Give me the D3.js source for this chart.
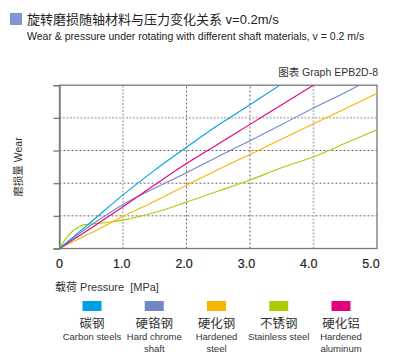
<!DOCTYPE html>
<html><head><meta charset="utf-8">
<script src="https://cdn.jsdelivr.net/npm/d3@7"></script>
<style>
body{margin:0;background:#fff;}
svg{display:block;font-family:"Liberation Sans","Noto Sans CJK SC",sans-serif;}
</style></head>
<body>
<svg id="c" width="400" height="360"></svg>
<script>
const xTicks = [0,1,2,3,4,5];
const xTickLabels = ["0","1.0","2.0","3.0","4.0","5.0"];
const yTicks = [0,1,2,3,4,5];
const seriesNames = ["碳钢","硬铬钢","硬化钢","不锈钢","硬化铝"];
const seriesEn = [["Carbon steels"],["Hard chrome","shaft"],["Hardened","steel"],["Stainless steel"],["Hardened","aluminum"]];
const seriesColors = ["#00a0e9","#7088c8","#f8b500","#aacc03","#e4007f"];
const carbonP = [0,0.5,1,1.5,2,2.5,3,3.5];
const carbonW = [0,0.82,1.64,2.4,3.1,3.78,4.4,5.04];
const chromeP = [0,0.5,1,1.5,2,2.5,3,3.5,4,4.5,4.8];
const chromeW = [0,0.72,1.35,1.85,2.32,2.82,3.3,3.8,4.3,4.78,5.08];
const hardP = [0,0.5,1,1.5,2,2.5,3,3.5,4,4.5,5];
const hardW = [0,0.48,0.98,1.45,1.94,2.42,2.88,3.35,3.82,4.28,4.75];
const stainP = [0,0.1,0.2,0.3,0.4,0.6,0.8,1,1.5,2,2.5,3,3.5,4,4.5,5];
const stainW = [0,0.3,0.52,0.66,0.73,0.77,0.81,0.87,1.1,1.42,1.76,2.1,2.47,2.81,3.22,3.64];
const aluP = [0,0.5,1,1.5,2,2.5,3,3.5,4.05];
const aluW = [0,0.63,1.28,1.95,2.6,3.2,3.8,4.4,5.06];
const lineP = [carbonP, chromeP, hardP, stainP, aluP];
const lineW = [carbonW, chromeW, hardW, stainW, aluW];

const svg = d3.select("#c");
const x = d3.scaleLinear().domain([0,5]).range([59.5,377]);
const xLab = d3.scaleLinear().domain([0,5]).range([59.5,371]);
const y = d3.scaleLinear().domain([0,5]).range([248.5,85.2]);

// title
svg.append("rect").attr("x",10).attr("y",13).attr("width",12).attr("height",12).attr("fill","#8096d4");
svg.append("text").attr("x",27).attr("y",23.5).attr("font-size",13).attr("fill","#222")
  .text("旋转磨损随轴材料与压力变化关系 v=0.2m/s");
svg.append("text").attr("x",27).attr("y",39.5).attr("font-size",10.5).attr("fill","#222")
  .text("Wear & pressure under rotating with different shaft materials, v = 0.2 m/s");
svg.append("text").attr("x",378).attr("y",76).attr("font-size",10.5).attr("fill","#333").attr("text-anchor","end")
  .text("图表 Graph EPB2D-8");

// grid
const g = svg.append("g");
const lightX = [1,4], lightY = [4];
yTicks.filter(v=>v>0&&v<5).forEach(v=>{
  const light = lightY.includes(v);
  g.append("line").attr("x1",x(0)).attr("x2",x(5)).attr("y1",y(v)).attr("y2",y(v))
   .attr("stroke",light?"#c4c4c4":"#666").attr("stroke-width",light?2:1).attr("stroke-dasharray",light?"2,1.5":"2,2");
});
xTicks.filter(v=>v>0&&v<5).forEach(v=>{
  const light = lightX.includes(v);
  g.append("line").attr("y1",y(0)).attr("y2",y(5)).attr("x1",x(v)).attr("x2",x(v))
   .attr("stroke",light?"#c4c4c4":"#666").attr("stroke-width",light?2:1).attr("stroke-dasharray",light?"2,1.5":"2,2");
});

// frame
g.append("rect").attr("x",x(0)).attr("y",y(5)).attr("width",x(5)-x(0)).attr("height",y(0)-y(5))
 .attr("fill","none").attr("stroke","#777").attr("stroke-width",1.3);
const yAxis = d3.axisLeft(y).tickValues(yTicks).tickSize(6).tickFormat("");
const ya = svg.append("g").attr("transform",`translate(${x(0)},0)`).call(yAxis);
ya.select(".domain").attr("stroke","#777").attr("stroke-width",1.3);
ya.selectAll(".tick line").attr("stroke","#777").attr("stroke-width",1.3);

// lines
svg.append("clipPath").attr("id","clip").append("rect")
  .attr("x",x(0)).attr("y",y(5)).attr("width",x(5)-x(0)).attr("height",y(0)-y(5));
const line = d3.line().x(d=>x(d[0])).y(d=>y(d[1])).curve(d3.curveMonotoneX);
const order = [3,2,1,4,0];
order.forEach(i=>{
  const pts = lineP[i].map((p,k)=>[p,lineW[i][k]]);
  svg.append("path").attr("d",line(pts)).attr("fill","none").attr("stroke",seriesColors[i])
    .attr("stroke-width",1.1).attr("clip-path","url(#clip)");
});

// x labels
xTicks.forEach((v,i)=>{
  svg.append("text").attr("x",xLab(v)).attr("y",268).attr("text-anchor","middle")
    .attr("font-size",12.5).attr("fill","#222").attr("stroke","#222").attr("stroke-width",0.2).text(xTickLabels[i]);
});
svg.append("text").attr("x",55).attr("y",291).attr("font-size",11).attr("fill","#333")
  .style("white-space","pre").text("载荷 Pressure  [MPa]");
svg.append("text").attr("transform","translate(22,167) rotate(-90)").attr("text-anchor","middle")
  .attr("font-size",10.5).attr("fill","#333").text("磨损量 Wear");

// legend
const lx = d3.scalePoint().domain(seriesNames).range([92,341]);
seriesNames.forEach((n,i)=>{
  const cx = lx(n);
  svg.append("rect").attr("x",cx-9.5).attr("y",301).attr("width",19).attr("height",10).attr("fill",seriesColors[i]);
  svg.append("text").attr("x",cx).attr("y",328).attr("text-anchor","middle").attr("font-size",12.5).attr("fill","#333").text(n);
  seriesEn[i].forEach((t,k)=>{
    svg.append("text").attr("x",cx).attr("y",340+k*12).attr("text-anchor","middle").attr("font-size",9.5).attr("fill","#333").text(t);
  });
});
</script>
</body></html>
